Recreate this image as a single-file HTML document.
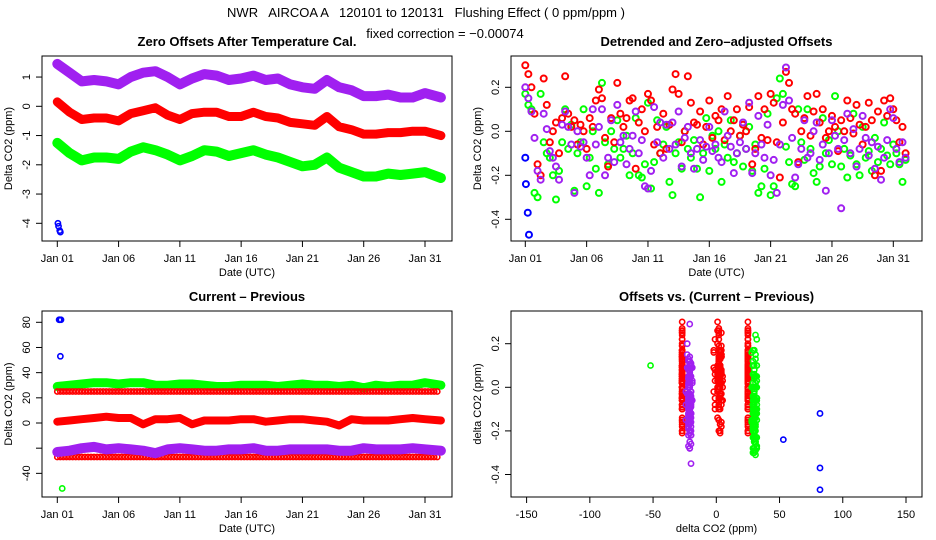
<!DOCTYPE html>
<html><head><meta charset="utf-8"><style>
body{margin:0;background:#fff}
svg{display:block;font-family:"Liberation Sans",sans-serif}
text{white-space:pre}
</style></head><body>
<svg id="c" width="936" height="540" viewBox="0 0 936 540">
<text x="426" y="17" text-anchor="middle" font-size="13" xml:space="preserve">NWR   AIRCOA A   120101 to 120131   Flushing Effect ( 0 ppm/ppm )</text>
<text x="445" y="38" text-anchor="middle" font-size="13">fixed correction = −0.00074</text>
</svg>
<script>
// ---- data ----
const dayTicks=[0,5,10,15,20,25,30];
const dayTickLabels=["Jan 01","Jan 06","Jan 11","Jan 16","Jan 21","Jan 26","Jan 31"];
// panel 1: zero offsets (daily)
const p1Purple=[1.45,1.15,0.85,0.9,0.85,0.75,1.0,1.15,1.2,1.0,0.75,0.95,1.1,1.05,0.9,0.95,1.05,0.9,0.95,0.75,0.65,0.6,0.9,0.65,0.55,0.35,0.35,0.4,0.3,0.3,0.45,0.3];
const p1Red=[0.15,-0.2,-0.45,-0.4,-0.4,-0.5,-0.25,-0.15,-0.05,-0.3,-0.45,-0.25,-0.2,-0.2,-0.35,-0.35,-0.2,-0.35,-0.4,-0.55,-0.6,-0.65,-0.35,-0.7,-0.8,-0.95,-0.95,-0.9,-0.9,-0.85,-0.85,-1.0];
const p1Green=[-1.25,-1.6,-1.85,-1.75,-1.75,-1.8,-1.55,-1.4,-1.5,-1.65,-1.85,-1.7,-1.5,-1.55,-1.7,-1.6,-1.5,-1.65,-1.75,-1.9,-2.05,-2.0,-1.75,-2.1,-2.25,-2.4,-2.4,-2.3,-2.35,-2.3,-2.25,-2.45];
const blueDays=[0.05,0.1,0.2,0.25];
const p1Blue=[-4.0,-4.1,-4.25,-4.3];
// panel 2: detrended (every 0.25 day)
const detRed=[0.30,0.26,0.20,0.08,-0.15,-0.20,0.24,0.12,-0.05,0.00,0.04,-0.10,0.06,0.25,0.08,0.02,
0.05,-0.06,0.03,0.00,-0.08,0.06,0.02,0.14,0.19,0.15,-0.03,-0.16,0.06,-0.05,0.22,0.08,
0.02,0.06,0.14,0.15,-0.17,0.04,0.10,0.00,0.17,0.14,-0.06,0.02,-0.10,0.08,-0.08,0.03,
0.19,0.26,0.17,-0.05,0.00,0.25,0.13,0.04,0.03,0.09,-0.06,0.02,0.14,-0.03,0.07,0.05,
0.10,-0.04,0.16,0.00,0.05,0.10,-0.02,0.03,0.00,0.11,-0.15,-0.08,0.16,-0.03,0.10,-0.04,
0.17,0.13,-0.05,-0.21,0.04,0.27,0.22,0.10,0.08,-0.14,0.00,0.06,0.16,-0.02,0.09,0.17,
0.04,0.10,-0.03,0.00,0.07,0.02,-0.09,0.05,0.00,0.14,0.06,-0.01,0.12,0.03,-0.06,0.02,
0.13,0.05,-0.20,0.09,-0.18,0.14,0.07,0.15,0.10,0.05,-0.05,0.02,-0.10];
const detGreen=[0.17,0.12,0.10,-0.28,-0.30,0.17,-0.05,-0.10,-0.12,-0.20,-0.31,-0.18,-0.05,0.10,-0.08,0.03,
-0.27,-0.10,-0.05,0.10,-0.25,-0.12,0.00,-0.17,-0.28,0.22,-0.05,-0.15,0.00,-0.08,0.05,-0.12,
-0.08,-0.02,-0.20,-0.10,0.06,-0.20,-0.21,-0.15,0.13,-0.26,-0.14,0.05,-0.10,-0.06,0.02,-0.23,
-0.29,-0.10,-0.05,-0.17,0.00,-0.08,-0.12,-0.04,-0.17,-0.30,-0.10,0.06,-0.18,-0.02,-0.08,0.00,
-0.23,-0.06,-0.12,0.05,-0.14,-0.10,-0.02,-0.16,-0.08,0.02,-0.18,-0.06,-0.28,-0.25,-0.17,0.08,
-0.29,-0.25,0.15,0.24,0.17,-0.07,-0.14,-0.24,-0.25,0.10,-0.05,-0.13,0.10,-0.08,-0.19,-0.23,
-0.16,0.06,-0.10,-0.04,-0.15,0.16,0.00,-0.16,-0.08,-0.21,-0.11,0.08,-0.15,-0.20,0.02,-0.12,
-0.09,-0.18,-0.03,-0.14,-0.08,0.04,-0.11,-0.15,-0.06,-0.10,-0.15,-0.23,-0.13];
const detPurple=[0.20,0.15,0.09,-0.03,-0.18,-0.22,0.08,0.01,-0.09,-0.12,-0.16,-0.22,0.03,0.09,0.02,-0.06,
-0.28,0.00,-0.07,-0.05,-0.12,-0.20,0.10,-0.06,0.02,0.10,-0.20,-0.12,0.05,-0.14,0.12,-0.05,
-0.02,-0.15,-0.08,-0.02,0.09,-0.10,-0.04,-0.25,-0.26,-0.18,0.11,-0.05,0.04,-0.12,0.03,-0.08,
0.04,-0.06,0.09,-0.16,-0.03,0.02,-0.10,-0.17,-0.08,-0.04,-0.13,-0.07,0.02,-0.09,-0.06,-0.12,
-0.14,0.09,-0.02,-0.07,-0.19,-0.10,-0.05,0.04,-0.08,0.13,-0.19,-0.10,0.07,-0.06,-0.12,0.03,
-0.20,-0.13,-0.28,-0.06,0.12,0.29,0.14,-0.03,-0.21,-0.15,-0.08,0.05,-0.12,-0.10,0.00,0.04,
-0.13,-0.06,-0.27,-0.10,0.05,-0.02,-0.08,-0.35,-0.04,0.08,-0.10,0.01,-0.16,-0.08,0.07,-0.03,
-0.11,-0.05,-0.17,-0.07,-0.22,-0.12,-0.04,0.10,0.06,-0.08,-0.14,-0.05,-0.12];
const detBlue=[-0.12,-0.24,-0.37,-0.47];
// panel 3: current - previous (daily)
const cpGreen=[29,30,31,32,32,31,32,32,30,30,31,31,30,29,29,30,30,30,29,30,31,30,30,29,30,28,30,29,30,30,32,30];
const cpRed=[1,2,3,4,5,4,4,-1,3,3,4,-1,2,2,2,3,3,1,2,3,3,2,1,-2,3,2,2,2,3,4,3,2];
const cpPurple=[-23,-22,-20,-19,-21,-20,-21,-22,-24,-21,-20,-21,-22,-22,-21,-21,-20,-22,-22,-21,-21,-21,-21,-22,-22,-20,-21,-21,-21,-20,-21,-22];
const cpRedHi=25, cpRedLo=-27;
const cpBlue=[82,53,82,82];
const outlierGreen={day:0.4,cp:-52,det:0.1};

const COL={purple:"#a020f0",red:"#ff0000",green:"#00ff00",blue:"#0000ff"};
const svg=document.getElementById('c');
const NS="http://www.w3.org/2000/svg";
function el(tag,attrs,parent){const e=document.createElementNS(NS,tag);for(const k in attrs)e.setAttribute(k,attrs[k]);(parent||svg).appendChild(e);return e;}
function lin(d0,d1,r0,r1){return v=>r0+(v-d0)*(r1-r0)/(d1-d0);}

function panel(name,box,title,xlab,ylab,xs,ys,xt,xtl,yt,ytl){
  const g=el('g',{});
  
  
  const r=el('rect',{x:box.l,y:box.t,width:box.r-box.l,height:box.b-box.t,fill:'none',stroke:'#000','stroke-width':1},g);
  
  const t=el('text',{x:(box.l+box.r)/2,y:box.t-10,'text-anchor':'middle','font-size':13,'font-weight':'bold'},g);t.textContent=title;
  
  const xa=el('g',{},g);
  xt.forEach((v,i)=>{const x=xs(v);el('line',{x1:x,x2:x,y1:box.b,y2:box.b+6,stroke:'#000'},xa);
    const tx=el('text',{x:x,y:box.b+21,'text-anchor':'middle','font-size':11},xa);tx.textContent=xtl[i];
    });
  el('line',{x1:xs(xt[0]),x2:xs(xt[xt.length-1]),y1:box.b,y2:box.b,stroke:'#000'},xa);
  const xl=el('text',{x:(box.l+box.r)/2,y:box.b+35,'text-anchor':'middle','font-size':11},g);xl.textContent=xlab;
  
  const ya=el('g',{},g);
  yt.forEach((v,i)=>{const y=ys(v);el('line',{x1:box.l-6,x2:box.l,y1:y,y2:y,stroke:'#000'},ya);
    if(ytl[i]!==''){const tx=el('text',{x:box.l-12,y:y,'text-anchor':'middle','font-size':11,transform:`rotate(-90 ${box.l-12} ${y})`},ya);tx.textContent=ytl[i];
    }});
  el('line',{x1:box.l,x2:box.l,y1:ys(yt[0]),y2:ys(yt[yt.length-1]),stroke:'#000'},ya);
  const yl=el('text',{x:box.l-30,y:(box.t+box.b)/2,'text-anchor':'middle','font-size':11,transform:`rotate(-90 ${box.l-30} ${(box.t+box.b)/2})`},g);yl.textContent=ylab;
  
  return g;
}
function pts(g,name,xsArr,ysArr,xs,ys,col,rad,sw){
  const s=el('g',{});
  g.appendChild(s);
  
  
  for(let i=0;i<ysArr.length;i++){
    el('circle',{cx:xs(xsArr[i]),cy:ys(ysArr[i]),r:rad||2.6,fill:'none',stroke:col,'stroke-width':sw||1.6},s);
  }
}
function band(g,name,days,vals,xs,ys,col,w){
  const s=el('g',{},g);
  
  
  const d=vals.map((v,i)=>(i?'L':'M')+xs(days[i]).toFixed(1)+','+ys(v).toFixed(1)).join('');
  el('path',{d:d,fill:'none',stroke:col,'stroke-width':w,'stroke-linejoin':'round','stroke-linecap':'round'},s);
  for(let i=0;i<vals.length;i++)el('circle',{cx:xs(days[i]),cy:ys(vals[i]),r:2.6,fill:'none',stroke:col,'stroke-width':1.6},s);
}
const dailyDays=p1Red.map((_,i)=>i===31?31.3:i);
const qDays=detRed.map((_,i)=>i*0.25);

// Panel 1
{const box={l:42,r:452,t:56,b:241};
 const xs=lin(0,30,57.3,425),ys=lin(0,-4,106.3,223.3);
 const g=panel('zero-offsets-panel',box,'Zero Offsets After Temperature Cal.','Date (UTC)','Delta CO2 (ppm)',xs,ys,dayTicks,dayTickLabels,[1,0,-1,-2,-3,-4],["1","0","-1","-2","-3","-4"]);
 band(g,'purple-series',dailyDays,p1Purple,xs,ys,COL.purple,10);
 band(g,'red-series',dailyDays,p1Red,xs,ys,COL.red,9);
 band(g,'green-series',dailyDays,p1Green,xs,ys,COL.green,10);
 pts(g,'blue-series',blueDays,p1Blue,xs,ys,COL.blue);}

// Panel 2
{const box={l:511,r:922,t:56,b:241};
 const xs=lin(0,30,525.3,893.3),ys=lin(0,0.2,131.3,87.3);
 const g=panel('detrended-panel',box,'Detrended and Zero\u2013adjusted Offsets','Date (UTC)','Delta CO2 (ppm)',xs,ys,dayTicks,dayTickLabels,[0.2,0,-0.2,-0.4],["0.2","0.0","-0.2","-0.4"]);
 pts(g,'green-series',qDays,detGreen,xs,ys,COL.green,3,2);
 pts(g,'red-series',qDays,detRed,xs,ys,COL.red,3,2);
 pts(g,'purple-series',qDays,detPurple,xs,ys,COL.purple,3,2);
 pts(g,'blue-series',[0,0.05,0.2,0.3],detBlue,xs,ys,COL.blue,3,2);}

// Panel 3
{const box={l:42,r:452,t:311,b:497};
 const xs=lin(0,30,57.3,425),ys=lin(0,80,423,322.3);
 const g=panel('current-minus-previous-panel',box,'Current \u2013 Previous','Date (UTC)','Delta CO2 (ppm)',xs,ys,dayTicks,dayTickLabels,[80,60,40,20,0,-20,-40],["80","60","40","20","0","","-40"]);
 band(g,'green-series',dailyDays,cpGreen,xs,ys,COL.green,9);
 pts(g,'red-high-series',qDays,qDays.map(()=>cpRedHi),xs,ys,COL.red);
 band(g,'red-series',dailyDays,cpRed,xs,ys,COL.red,8);
 pts(g,'red-low-series',qDays,qDays.map(()=>cpRedLo),xs,ys,COL.red);
 band(g,'purple-series',dailyDays,cpPurple,xs,ys,COL.purple,10);
 pts(g,'blue-series',[0.15,0.25,0.2,0.3],cpBlue,xs,ys,COL.blue);
 pts(g,'green-outlier',[outlierGreen.day],[outlierGreen.cp],xs,ys,COL.green);}

// Panel 4
{const box={l:511,r:922,t:311,b:497};
 const xs=lin(0,150,716.3,906),ys=lin(0,0.2,387.3,343.7);
 const g=panel('offsets-vs-diff-panel',box,'Offsets vs. (Current \u2013 Previous)','delta CO2 (ppm)','delta CO2 (ppm)',xs,ys,[-150,-100,-50,0,50,100,150],["-150","-100","-50","0","50","100","150"],[0.2,0,-0.2,-0.4],["0.2","0.0","-0.2","-0.4"]);
 const at=(arr,i)=>arr[Math.min(arr.length-1,Math.floor(i/4))];
 pts(g,'red-low-cluster',detRed.map(()=>cpRedLo),detRed,xs,ys,COL.red);
 pts(g,'purple-cluster',detPurple.map((_,i)=>at(cpPurple,i)),detPurple,xs,ys,COL.purple);
 pts(g,'red-mid-cluster',detRed.map((_,i)=>at(cpRed,i)),detRed,xs,ys,COL.red);
 pts(g,'red-high-cluster',detRed.map(()=>cpRedHi),detRed,xs,ys,COL.red);
 pts(g,'green-cluster',detGreen.map((_,i)=>at(cpGreen,i)),detGreen,xs,ys,COL.green);
 pts(g,'green-outlier',[outlierGreen.cp],[outlierGreen.det],xs,ys,COL.green);
 pts(g,'blue-points',cpBlue,detBlue,xs,ys,COL.blue);}
</script>
</body></html>
